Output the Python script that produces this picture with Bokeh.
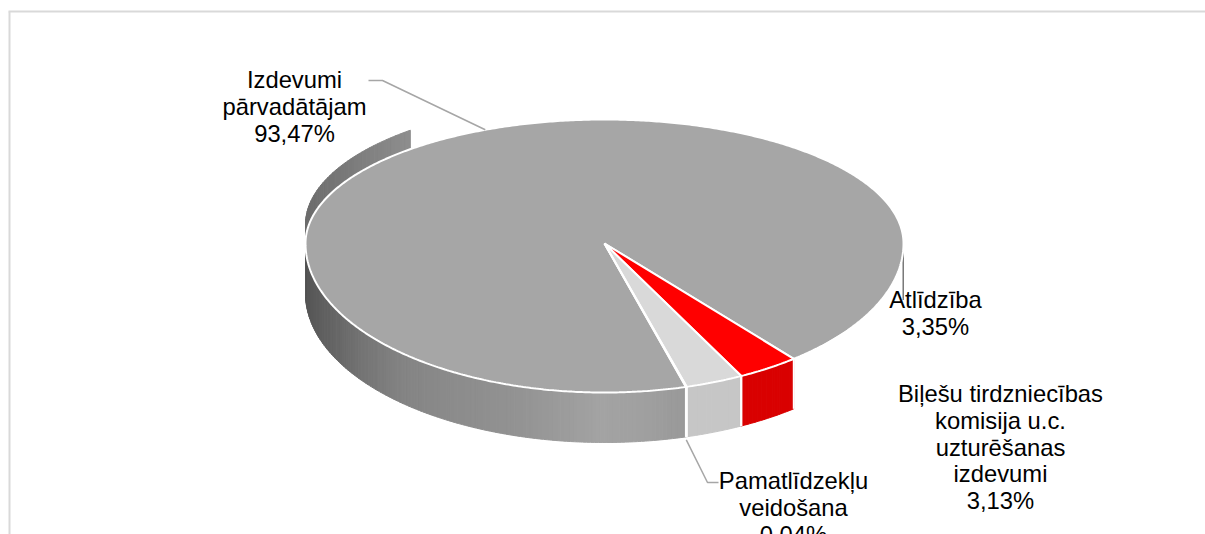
import numpy as np
from bokeh.plotting import figure
from bokeh.models import Range1d
from bokeh.embed import file_html
from bokeh.resources import INLINE
from bokeh.core.properties import value

# ---------------- data ----------------
categories = [
    "Izdevumi\npārvadātājam",
    "Atlīdzība",
    "Biļešu tirdzniecības\nkomisija u.c.\nuzturēšanas\nizdevumi",
    "Pamatlīdzekļu\nveidošana",
]
shares = [93.47, 3.35, 3.13, 0.04]
top_colors = ["#a6a6a6", "#ff0000", "#d9d9d9", "#bfbfbf"]
side_colors = ["#999999", "#d90000", "#c6c6c6", "#bfbfbf"]

# ---------------- layout / style ----------------
W, H = 1205, 534
CX, CY = 604.0, 243.0        # pie centre on screen
RX, RYB, RYF = 299.0, 124.0, 149.0   # radii (back half / front half: perspective)
DEPTH = 50.0
START = 74.2                 # first slice angle, clockwise from 3 o'clock
FONT = value("Liberation Sans")
FS = "23.8px"
LINE_H = 26.8
label_pos = [(294, 79), (935, 299), (1000, 393), (793, 480)]

# gradient stops of the grey side wall (x -> grey level)
grad_x = [305, 330, 360, 400, 450, 520, 600, 640, 690]
grad_v = [0x55, 0x64, 0x73, 0x83, 0x8b, 0x93, 0xa3, 0xa0, 0x98]


def edge(theta_deg, dy=0.0):
    t = np.radians(np.asarray(theta_deg, dtype=float))
    s = np.sin(t)
    ry = np.where(s > 0, RYF, RYB)
    return CX + RX * np.cos(t), CY + ry * s + dy


def grey(v):
    v = int(round(v))
    return "#%02x%02x%02x" % (v, v, v)


p = figure(width=W, height=H, x_range=Range1d(0, W), y_range=Range1d(H, 0),
           output_backend="svg", toolbar_location=None, min_border=0,
           x_axis_location=None, y_axis_location=None)
p.grid.visible = False
p.outline_line_color = None
p.background_fill_color = "white"
p.border_fill_color = "white"

# chart-area border (top and left visible, the rest is outside the window)
p.line([8, W], [11, 11], line_color="#d9d9d9", line_width=2)
p.line([9, 9], [11, H], line_color="#d9d9d9", line_width=2)

# slice angles
total = sum(shares)
angles = []
a = START
for s in shares:
    b = a + s / total * 360.0
    angles.append((a, b))
    a = b

# ---- strips helper ----
def band(t0, t1, dy_top, dy_bot, n, colfun):
    xs, ys, cs = [], [], []
    th = np.linspace(t0, t1, n + 1)
    for i in range(n):
        tt = np.linspace(th[i], th[i + 1], 3)
        xt, yt = edge(tt, dy_top)
        xb, yb = edge(tt[::-1], dy_bot)
        xs.append(list(np.concatenate([xt, xb])))
        ys.append(list(np.concatenate([yt, yb])))
        cs.append(colfun(float(np.mean(xt))))
    return xs, ys, cs

# back-left sliver of the big slice (perspective artefact)
g0, g1 = angles[0]
xs, ys, cs = band(180.0, 229.5, -19.0, 0.0, 40,
                  lambda x: grey(np.interp(x, [305, 410], [0x6c, 0x8e])))
p.patches(xs, ys, fill_color=cs, line_color=cs, line_width=1)

# right-hand sliver
xs, ys, cs = band(360.0, 362.5, 0.0, DEPTH, 3, lambda x: "#7a7a7a")
p.patches(xs, ys, fill_color=cs, line_color=cs, line_width=1)

# front side walls
wall_xs, wall_ys, wall_cs = [], [], []
xs, ys, cs = band(g0, 180.0, 0.0, DEPTH, 140,
                  lambda x: grey(np.interp(x, grad_x, grad_v)))
wall_xs += xs; wall_ys += ys; wall_cs += cs
for i in range(1, len(shares)):
    t0, t1 = angles[i]
    t0m, t1m = t0 % 360, t1 % 360
    if t1m < t0m:
        t1m += 360
    n = max(2, int((t1m - t0m) * 2))
    xs, ys, cs = band(t0m, t1m, 0.0, DEPTH, n, lambda x, c=side_colors[i]: c)
    wall_xs += xs; wall_ys += ys; wall_cs += cs
p.patches(wall_xs, wall_ys, fill_color=wall_cs, line_color=wall_cs, line_width=1)

# white edges between the side walls
sep_x, sep_y = [], []
for i in range(1, len(shares)):
    for t in angles[i]:
        x0, y0 = edge(t % 360)
        sep_x.append([float(x0), float(x0)])
        sep_y.append([float(y0), float(y0) + DEPTH])
p.multi_line(sep_x, sep_y, line_color="white", line_width=2)

# top face wedges
fx, fy = [], []
for (t0, t1) in angles:
    n = max(3, int((t1 - t0) * 2))
    th = np.linspace(t0, t1, n)
    ex, ey = edge(th)
    fx.append([CX] + list(ex) + [CX])
    fy.append([CY] + list(ey) + [CY])
p.patches(fx, fy, fill_color=top_colors, line_color="white", line_width=2)

# leader lines
ax0, ay0 = edge(246.5)
p.line([368, 382, float(ax0)], [80, 80, float(ay0)], line_color="#a6a6a6", line_width=1.5)
tm = (angles[3][0] + angles[3][1]) / 2 % 360
lx0, ly0 = edge(tm, DEPTH + 3)
p.line([float(lx0), 707, 718], [float(ly0), 482, 482], line_color="#a6a6a6", line_width=1.5)

# labels
tx, ty, tt = [], [], []
for cat, v, (lx, ly) in zip(categories, shares, label_pos):
    lines = cat.split("\n") + [f"{v:.2f}".replace(".", ",") + "%"]
    for k, line in enumerate(lines):
        tx.append(lx)
        ty.append(ly + k * LINE_H)
        tt.append(line)
p.text(x=tx, y=ty, text=tt, text_font=FONT, text_font_size=FS, text_align="center",
       text_baseline="alphabetic", text_color="#000000")

open("out.html", "w").write(file_html(p, INLINE))
